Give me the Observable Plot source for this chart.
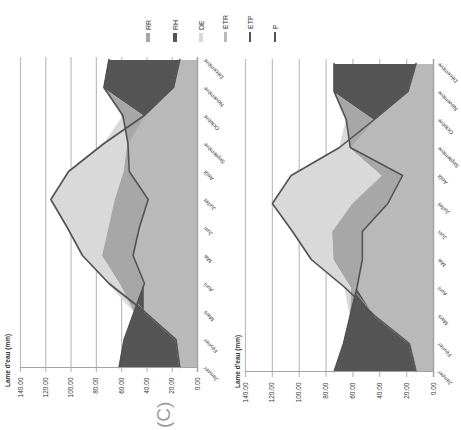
<!DOCTYPE html>
<html><head><meta charset="utf-8">
<script src="https://cdn.jsdelivr.net/npm/d3@7"></script>
<script src="https://cdn.jsdelivr.net/npm/@observablehq/plot@0.6"></script>
<style>
html,body{margin:0;padding:0;background:#fff;overflow:hidden;width:461px;height:430px}
#fig{position:absolute;left:0;top:0;width:430px;height:461px;transform-origin:0 0;transform:translate(0,430px) rotate(-90deg);font-family:"Liberation Sans",Arial,sans-serif;background:#fff}
.panel{position:absolute;left:0}
.ttl{position:absolute;font-size:6.5px;font-weight:bold;color:#333;white-space:nowrap;line-height:1}
.leg{position:absolute;height:8px;display:flex;align-items:center;font-size:7px;color:#333;white-space:nowrap;line-height:1}
.sw{display:inline-block;margin-right:3px}
.mark{position:absolute;color:#9a9a9a;font-size:19px;font-weight:300;line-height:1}
g[aria-label^="x-axis"] text{font-size:5.6px;fill:#333}
</style></head><body><div id="fig"></div>
<script>
// Categories and tick labels
const months = ["Janvier","Février","Mars","Avril","Mai","Juin","Juillet","Août","Septembre","Octobre","Novembre","Décembre"];
const yTicks = [0,20,40,60,80,100,120,140];
const legendLabels = ["RR","RH","DE","ETR","ETP","P"];
const axisTitle = "Lame d'eau (mm)";

// Chart 1 (upper panel in original orientation)
const P_1   = [62,58,50,42,51,46,39,54,55,59,74,70];
const ETP_1 = [14,17,42,70,91,103,116,102,74,42,19,14];
const ETR_1 = [14,17,42,61,75,70,65,58,55,42,19,14];
const RR_1  = [0,0,0,19,24,24,26,4,0,17,0,0];
const RH_1  = [48,41,8,0,0,0,0,0,0,0,55,56];
const DE_1  = [0,0,0,9,16,33,51,44,19,0,0,0];

// Chart 2 (lower panel in original orientation)
const P_2   = [74,67,62,57,53,53,34,23,62,65,74,74];
const ETP_2 = [13,18,44,66,91,105,120,106,70,44,19,13];
const ETR_2 = [13,18,44,61,74,75,60,38,62,44,19,13];
const RR_2  = [0,0,0,4,21,22,26,15,0,21,0,0];
const RH_2  = [61,49,18,0,0,0,0,0,0,0,55,61];
const DE_2  = [0,0,0,5,17,30,60,68,8,0,0,0];

const colBase = "#b9b9b9", colRR = "#a7a7a7", colDE = "#d9d9d9", colRH = "#555555", colLine = "#525252";
const order = ["base","RH","RR","DE"];

function chart(P, ETP, ETR, RR, RH, DE, o) {
  const rows = months.flatMap((m,i)=>[
    {m, s:"base", v:Math.min(P[i],ETP[i])},
    {m, s:"RH", v:RH[i]},
    {m, s:"RR", v:RR[i]},
    {m, s:"DE", v:DE[i]}
  ]);
  const ser = arr => months.map((m,i)=>({m, v:arr[i]}));
  return Plot.plot({
    width:430, height:o.height,
    marginLeft:o.ml, marginRight:o.mr, marginTop:o.mt, marginBottom:o.mb,
    style:{background:"transparent", fontSize:"6.5px", fontFamily:"Liberation Sans, Arial, sans-serif", color:"#333", overflow:"visible"},
    x:{type:"point", domain:months, padding:0, label:null, tickRotate:-45, tickSize:0, tickPadding:o.tp},
    y:{domain:[0,140], ticks:yTicks, tickFormat:d=>d.toFixed(2), label:null, tickSize:0, tickPadding:6},
    color:{domain:order, range:[colBase,colRH,colRR,colDE]},
    marks:[
      Plot.ruleY(yTicks.filter(d=>d>0), {stroke:"#bdbdbd", strokeWidth:1.2}),
      Plot.areaY(rows, Plot.stackY({x:"m", y:"v", z:"s", fill:"s", order})),
      Plot.line(ser(ETR), {x:"m", y:"v", stroke:colRR, strokeWidth:1}),
      Plot.line(ser(P), {x:"m", y:"v", stroke:colLine, strokeWidth:1.6}),
      Plot.line(ser(ETP), {x:"m", y:"v", stroke:colLine, strokeWidth:1.6}),
      Plot.ruleY([0], {stroke:"#a3a3a3", strokeWidth:1.5}),
      Plot.ruleX([months[0]], {stroke:"#a3a3a3", strokeWidth:1.2})
    ]
  });
}

const fig = document.getElementById("fig");
function place(el, top){ const d=document.createElement("div"); d.className="panel"; d.style.top=top+"px"; d.appendChild(el); fig.appendChild(d); }

place(chart(P_1,ETP_1,ETR_1,RR_1,RH_1,DE_1,{height:240, ml:58, mr:57, mt:20, mb:43, tp:7}), 0);
place(chart(P_2,ETP_2,ETR_2,RR_2,RH_2,DE_2,{height:256, ml:53, mr:59, mt:40, mb:28, tp:5}), 205);

function text(cls, s, left, top){ const d=document.createElement("div"); d.className=cls; d.textContent=s; d.style.left=left+"px"; d.style.top=top+"px"; fig.appendChild(d); return d; }
text("ttl", axisTitle, 43, 5);
text("ttl", axisTitle, 42, 235);
text("mark", "(C)", 2, 154);

// Legend
const legStyle = {
  RR:{type:"area", c:colRR}, RH:{type:"area", c:colRH}, DE:{type:"area", c:colDE},
  ETR:{type:"line", c:colBase, w:3}, ETP:{type:"line", c:colLine, w:1.6}, P:{type:"line", c:colLine, w:1.6}
};
const legV = [148,175,201,225,250,275];
legendLabels.forEach((lab,i)=>{
  const d=document.createElement("div"); d.className="leg";
  d.style.left="388px"; d.style.top=(legV[i]-4)+"px";
  const sw=document.createElement("span"); sw.className="sw";
  const st=legStyle[lab];
  if(st.type==="area"){ sw.style.width="9px"; sw.style.height="4px"; sw.style.background=st.c; }
  else { sw.style.width="10px"; sw.style.height=st.w+"px"; sw.style.background=st.c; }
  d.appendChild(sw);
  const t=document.createElement("span"); t.textContent=lab; d.appendChild(t);
  fig.appendChild(d);
});
</script></body></html>
